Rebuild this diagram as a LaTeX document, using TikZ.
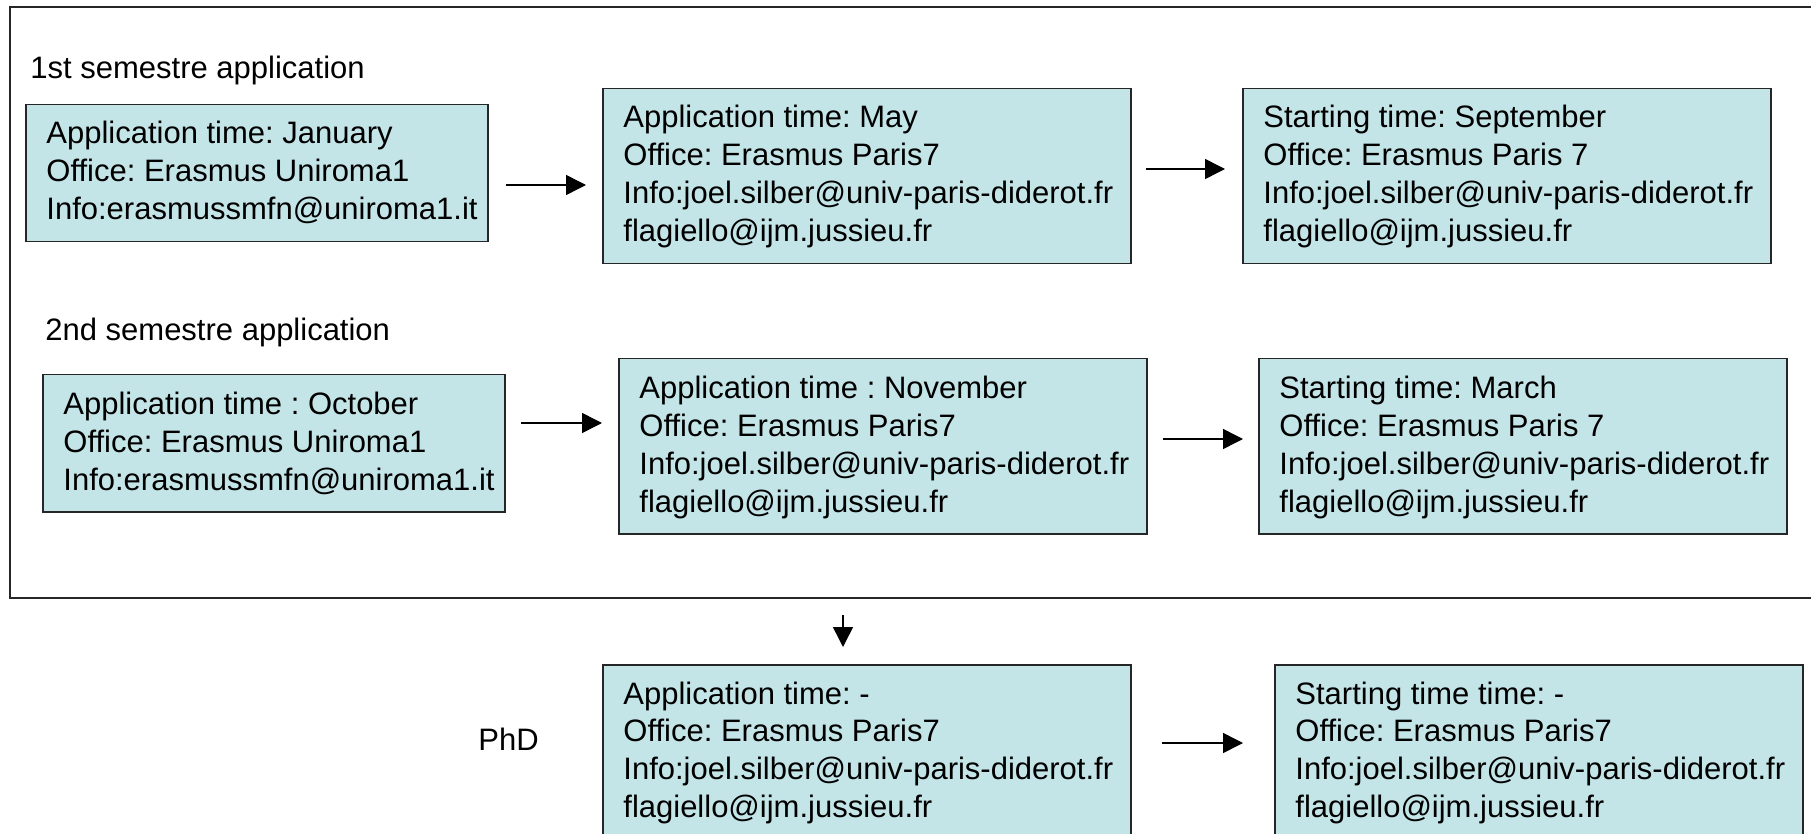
\documentclass[tikz,border=0pt]{standalone}
\usepackage{fontspec}
\setmainfont{Liberation Sans}
\usetikzlibrary{arrows.meta}
\definecolor{boxfill}{RGB}{196,229,232}
\frenchspacing
\newcommand\lns[1]{\vtop{\baselineskip=18.85pt\lineskiplimit=-20pt\lineskip=0pt\halign{##\hfil\cr#1\crcr}}}
\begin{document}
\begin{tikzpicture}[x=0.5pt,y=-0.5pt,
  boxa/.style={draw=black!85, line width=0.75pt, fill=boxfill, anchor=north west, inner sep=0pt, minimum width=231pt, minimum height=68.5pt},
  boxb/.style={draw=black!85, line width=0.75pt, fill=boxfill, anchor=north west, inner sep=0pt, minimum width=264pt, minimum height=87.5pt},
  txt/.style={anchor=base west, inner sep=0pt, font=\fontsize{15.5}{18.85}\selectfont\frenchspacing},
  arr/.style={line width=0.75pt, -{Triangle[length=10pt,width=10pt]}},
  frame/.style={draw=black!85, line width=0.8pt}]
\useasboundingbox (0,0) rectangle (1811,834);
% outer frame (open on the right, cut by the page edge)
\draw[frame] (1830,7) -- (10,7) -- (10,598) -- (1830,598);
% section labels
\node[txt] (l1) at (30,79) {1st semestre application};
\node[txt] (l2) at (45,341) {2nd semestre application};
\node[txt] (l3) at (478,750) {PhD};
% boxes
\node[boxa] (b1) at (25,104) {};
\node[boxb] (b2) at (602,88) {};
\node[boxb] (b3) at (1242,88) {};
\node[boxa] (b4) at (42,374) {};
\node[boxb] (b5) at (618,358) {};
\node[boxb] (b6) at (1258,358) {};
\node[boxb] (b7) at (602,664) {};
\node[boxb] (b8) at (1274,664) {};
% box texts
\node[txt] (t1) at (46,144) {\lns{Application time: January\cr Office: Erasmus Uniroma1\cr Info:erasmussmfn@uniroma1.it}};
\node[txt] (t2) at (623,128) {\lns{Application time: May\cr Office: Erasmus Paris7\cr Info:joel.silber@univ-paris-diderot.fr\cr flagiello@ijm.jussieu.fr}};
\node[txt] (t3) at (1263,128) {\lns{Starting time: September\cr Office: Erasmus Paris 7\cr Info:joel.silber@univ-paris-diderot.fr\cr flagiello@ijm.jussieu.fr}};
\node[txt] (t4) at (63,415) {\lns{Application time : October\cr Office: Erasmus Uniroma1\cr Info:erasmussmfn@uniroma1.it}};
\node[txt] (t5) at (639,399) {\lns{Application time : November\cr Office: Erasmus Paris7\cr Info:joel.silber@univ-paris-diderot.fr\cr flagiello@ijm.jussieu.fr}};
\node[txt] (t6) at (1279,399) {\lns{Starting time: March\cr Office: Erasmus Paris 7\cr Info:joel.silber@univ-paris-diderot.fr\cr flagiello@ijm.jussieu.fr}};
\node[txt] (t7) at (623,704) {\lns{Application time: -\cr Office: Erasmus Paris7\cr Info:joel.silber@univ-paris-diderot.fr\cr flagiello@ijm.jussieu.fr}};
\node[txt] (t8) at (1295,704) {\lns{Starting time time: -\cr Office: Erasmus Paris7\cr Info:joel.silber@univ-paris-diderot.fr\cr flagiello@ijm.jussieu.fr}};
% arrow end points
\coordinate (a1s) at (506,185); \coordinate (a1e) at (586,185);
\coordinate (a2s) at (1146,169); \coordinate (a2e) at (1225,169);
\coordinate (a3s) at (521,423); \coordinate (a3e) at (602,423);
\coordinate (a4s) at (1163,439); \coordinate (a4e) at (1243,439);
\coordinate (a5s) at (1162,743); \coordinate (a5e) at (1243,743);
\coordinate (a6s) at (843,615); \coordinate (a6e) at (843,647);
\draw[arr] (a1s) -- (a1e);
\draw[arr] (a2s) -- (a2e);
\draw[arr] (a3s) -- (a3e);
\draw[arr] (a4s) -- (a4e);
\draw[arr] (a5s) -- (a5e);
\draw[arr] (a6s) -- (a6e);
\end{tikzpicture}
\end{document}
